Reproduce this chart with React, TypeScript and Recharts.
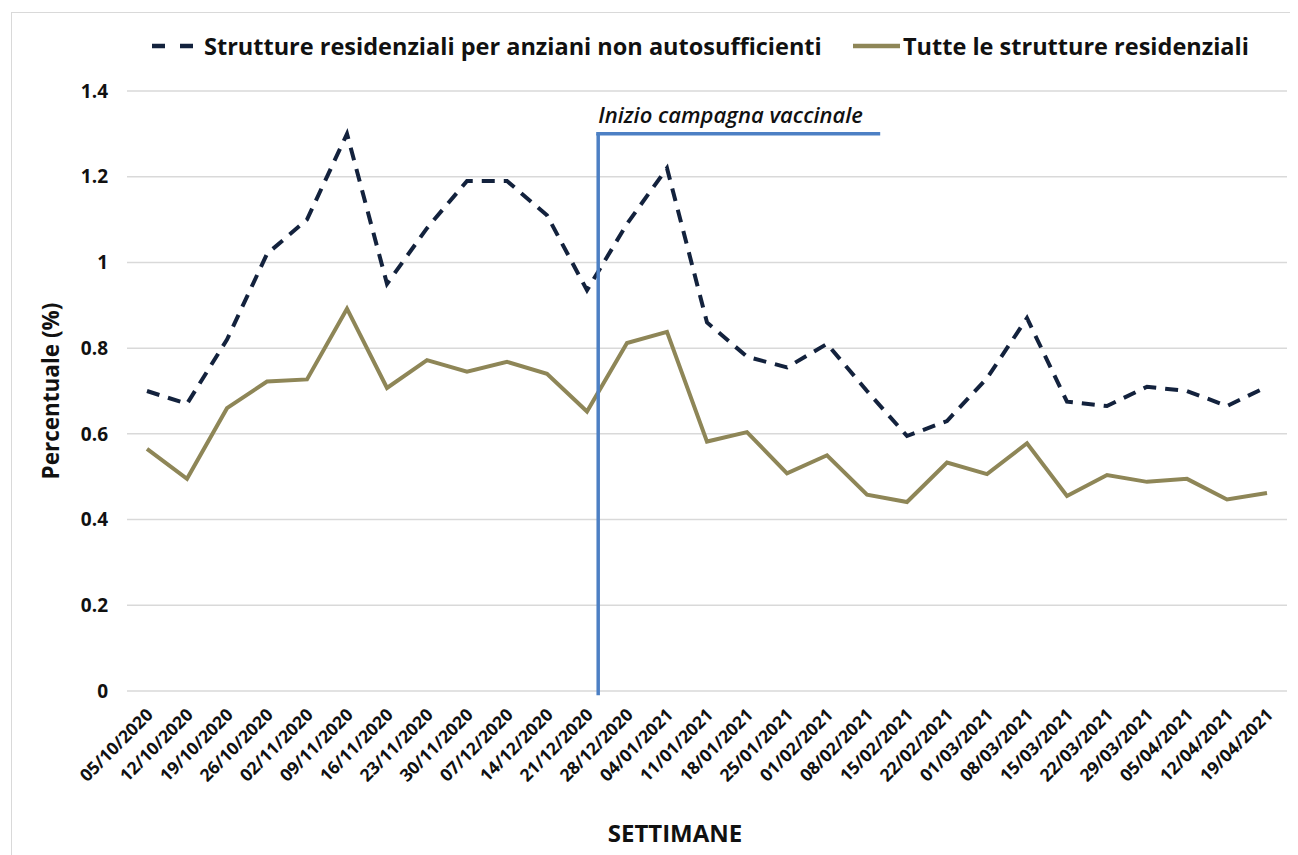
import { LineChart, Line, XAxis, YAxis, CartesianGrid, ReferenceLine, Label } from 'recharts'

const weeks = [
	'05/10/2020', '12/10/2020', '19/10/2020', '26/10/2020', '02/11/2020', '09/11/2020',
	'16/11/2020', '23/11/2020', '30/11/2020', '07/12/2020', '14/12/2020', '21/12/2020',
	'28/12/2020', '04/01/2021', '11/01/2021', '18/01/2021', '25/01/2021', '01/02/2021',
	'08/02/2021', '15/02/2021', '22/02/2021', '01/03/2021', '08/03/2021', '15/03/2021',
	'22/03/2021', '29/03/2021', '05/04/2021', '12/04/2021', '19/04/2021',
]

const anziani = [
	0.70, 0.67, 0.82, 1.02, 1.10, 1.30, 0.95, 1.08, 1.19, 1.19, 1.11, 0.935,
	1.09, 1.22, 0.86, 0.78, 0.755, 0.81, 0.70, 0.595, 0.63, 0.73, 0.87, 0.675,
	0.665, 0.71, 0.70, 0.665, 0.71,
]

const tutte = [
	0.565, 0.495, 0.66, 0.722, 0.727, 0.892, 0.707, 0.772, 0.745, 0.768, 0.74, 0.652,
	0.812, 0.838, 0.582, 0.604, 0.508, 0.55, 0.458, 0.441, 0.533, 0.506, 0.578, 0.455,
	0.504, 0.488, 0.495, 0.447, 0.462,
]

const yTicks = [0, 0.2, 0.4, 0.6, 0.8, 1, 1.2, 1.4]

// vaccination start marker: between 21/12 and 28/12, bracket reaches 08/02
const vaxX = 11.28
const vaxEndX = 18.33
const vaxY = 1.3

const FONT = '"Open Sans", Calibri, sans-serif'
const NAVY = '#13223d'
const OLIVE = '#8e8657'
const BLUE = '#4d80c4'

const rows = weeks.map((w, i) => ({ idx: i, week: w, anziani: anziani[i], tutte: tutte[i] }))

const WeekTick = (props: any) => {
	const { x, y, payload } = props
	return (
		<text
			transform={`translate(${x + 7},${y + 17}) rotate(-45)`}
			textAnchor="end"
			fontFamily={FONT}
			fontWeight={700}
			fontSize={17.5}
			fill="#111">
			{weeks[payload.value]}
		</text>
	)
}

const legendText = { position: 'absolute', top: 0, whiteSpace: 'nowrap' } as const

export default function App() {
	return (
		<div style={{ position: 'relative', width: 1290, height: 847, overflow: 'hidden', fontFamily: FONT }}>
			<div
				style={{
					position: 'absolute',
					left: 3,
					top: 4,
					width: 1300,
					height: 900,
					border: '1px solid #d9d9d9',
				}}
			/>
			<div
				style={{
					position: 'absolute',
					top: 22,
					left: 0,
					width: 1290,
					height: 32,
					fontSize: 23.5,
					fontWeight: 700,
					color: '#111',
					lineHeight: '32px',
				}}>
				<svg width={46} height={32} style={{ position: 'absolute', left: 144, top: 0 }}>
					<line x1={0} y1={16} x2={44} y2={16} stroke={NAVY} strokeWidth={4.5} strokeDasharray="13 15" />
				</svg>
				<span style={{ ...legendText, left: 196 }}>Strutture residenziali per anziani non autosufficienti</span>
				<svg width={48} height={32} style={{ position: 'absolute', left: 845, top: 0 }}>
					<line x1={0} y1={16} x2={47} y2={16} stroke={OLIVE} strokeWidth={4.5} />
				</svg>
				<span style={{ ...legendText, left: 895 }}>Tutte le strutture residenziali</span>
			</div>
			<LineChart width={1290} height={847} data={rows} margin={{ top: 83, right: 11, bottom: 0, left: 0 }}>
				<CartesianGrid vertical={false} stroke="#d9d9d9" strokeWidth={1.5} />
				<XAxis
					dataKey="idx"
					type="number"
					domain={[-0.5, 28.5]}
					ticks={rows.map((r) => r.idx)}
					interval={0}
					height={164}
					tick={<WeekTick />}
					tickLine={false}
					axisLine={false}>
					<Label
						content={() => (
							<text x={667} y={834} textAnchor="middle" fontFamily={FONT} fontWeight={700} fontSize={24} fill="#111">
								SETTIMANE
							</text>
						)}
					/>
				</XAxis>
				<YAxis
					type="number"
					domain={[0, 1.4]}
					ticks={yTicks}
					width={119}
					tickLine={false}
					axisLine={false}
					tickMargin={13}
					tick={{ fontFamily: FONT, fontWeight: 700, fontSize: 19, fill: '#111' }}>
					<Label
						content={(p: any) => {
							const vb = p.viewBox || { x: 0, y: 83, height: 600 }
							const cx = 42
							const cy = vb.y + vb.height / 2
							return (
								<text
									x={cx}
									y={cy}
									transform={`rotate(-90 ${cx} ${cy})`}
									textAnchor="middle"
									dominantBaseline="central"
									fontFamily={FONT}
									fontWeight={700}
									fontSize={22.5}
									fill="#111">
									Percentuale (%)
								</text>
							)
						}}
					/>
				</YAxis>
				<Line
					type="linear"
					dataKey="tutte"
					stroke={OLIVE}
					strokeWidth={4}
					dot={false}
					isAnimationActive={false}
				/>
				<Line
					type="linear"
					dataKey="anziani"
					stroke={NAVY}
					strokeWidth={4}
					strokeDasharray="13 9"
					dot={false}
					isAnimationActive={false}
				/>
				<ReferenceLine
					segment={[
						{ x: vaxX, y: vaxY },
						{ x: vaxX, y: -0.01 },
					]}
					stroke={BLUE}
					strokeWidth={3.5}
					ifOverflow="visible"
				/>
				<ReferenceLine
					segment={[
						{ x: vaxX - 0.05, y: vaxY },
						{ x: vaxEndX, y: vaxY },
					]}
					stroke={BLUE}
					strokeWidth={3.5}
					ifOverflow="visible">
					<Label
						content={(p: any) => {
							const vb = p.viewBox || {}
							const x = (vb.x ?? vb.x1 ?? 590) + 2
							const y = (vb.y ?? vb.y1 ?? 125) - 11
							return (
								<text x={x} y={y} fontFamily={FONT} fontStyle="italic" fontWeight={600} fontSize={22} fill="#111">
									Inizio campagna vaccinale
								</text>
							)
						}}
					/>
				</ReferenceLine>
			</LineChart>
		</div>
	)
}
